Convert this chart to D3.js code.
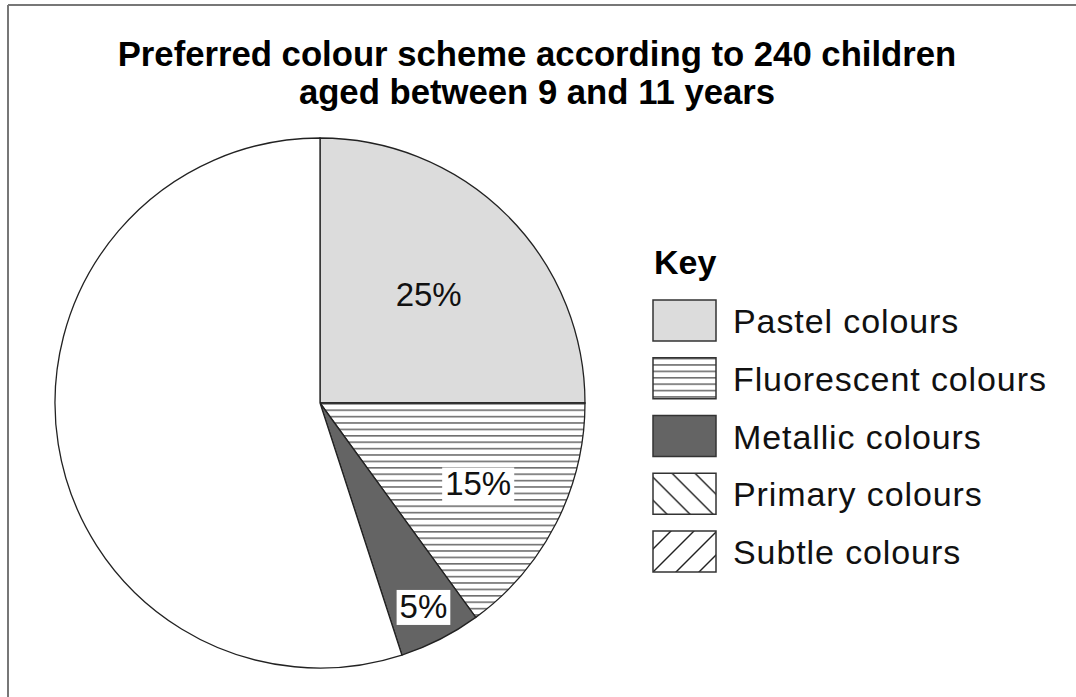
<!DOCTYPE html>
<html>
<head>
<meta charset="utf-8">
<script src="https://cdn.jsdelivr.net/npm/d3@7"></script>
<style>
	body { margin: 0; background: #fff; }
	text { font-family: "Liberation Sans", Arial, sans-serif; }
</style>
</head>
<body>
<div id="vis"></div>
<script>
// data
const SLICE_NAMES = ["Pastel colours", "Fluorescent colours", "Metallic colours", "Unmarked"];
const SLICE_VALUES = [25, 15, 5, 55];
const SLICE_LABELS = ["25%", "15%", "5%", ""];
const KEY_NAMES = ["Pastel colours", "Fluorescent colours", "Metallic colours", "Primary colours", "Subtle colours"];
const TITLE_LINES = ["Preferred colour scheme according to 240 children", "aged between 9 and 11 years"];

// declare constants
const FRAME_WIDTH = 1076;
const FRAME_HEIGHT = 697;
const CX = 320, CY = 403, RADIUS = 265;
// how far out (as fraction of radius) each label sits
const LABEL_POS = [0.58, 0.67, 0.86, 0];

const FILLS = {
	"Pastel colours": "#dcdcdc",
	"Fluorescent colours": "url(#hlines)",
	"Metallic colours": "#646464",
	"Primary colours": "url(#dback)",
	"Subtle colours": "url(#dfwd)",
	"Unmarked": "#fff"
};

const FRAME = d3.select("#vis")
	.append("svg")
		.attr("width", FRAME_WIDTH)
		.attr("height", FRAME_HEIGHT);

// patterns
const DEFS = FRAME.append("defs");

const HL = DEFS.append("pattern")
	.attr("id", "hlines")
	.attr("patternUnits", "userSpaceOnUse")
	.attr("width", 10).attr("height", 6.4);
HL.append("rect").attr("width", 10).attr("height", 6.4).attr("fill", "#fff");
HL.append("line")
	.attr("x1", 0).attr("x2", 10).attr("y1", 0.8).attr("y2", 0.8)
	.attr("stroke", "#6e6e6e").attr("stroke-width", 1.6);

const DB = DEFS.append("pattern")
	.attr("id", "dback")
	.attr("patternUnits", "userSpaceOnUse")
	.attr("width", 23).attr("height", 23)
	.attr("patternTransform", "translate(655,475)");
DB.append("rect").attr("width", 23).attr("height", 23).attr("fill", "#fff");
DB.selectAll("line")
	.data([[-1, -1, 24, 24], [-24, 0, 1, 24], [22, -1, 47, 24]])
	.enter()
	.append("line")
		.attr("x1", (d) => d[0]).attr("y1", (d) => d[1])
		.attr("x2", (d) => d[2]).attr("y2", (d) => d[3])
		.attr("stroke", "#222").attr("stroke-width", 1.4);

const DF = DEFS.append("pattern")
	.attr("id", "dfwd")
	.attr("patternUnits", "userSpaceOnUse")
	.attr("width", 23).attr("height", 23)
	.attr("patternTransform", "translate(660,531)");
DF.append("rect").attr("width", 23).attr("height", 23).attr("fill", "#fff");
DF.selectAll("line")
	.data([[-1, 24, 24, -1], [-24, 24, 1, -1], [22, 24, 47, -1]])
	.enter()
	.append("line")
		.attr("x1", (d) => d[0]).attr("y1", (d) => d[1])
		.attr("x2", (d) => d[2]).attr("y2", (d) => d[3])
		.attr("stroke", "#222").attr("stroke-width", 1.4);

// outer frame (top and left edges only visible)
FRAME.append("line")
	.attr("x1", 8).attr("x2", FRAME_WIDTH).attr("y1", 5).attr("y2", 5)
	.attr("stroke", "#777").attr("stroke-width", 2);
FRAME.append("line")
	.attr("x1", 8).attr("x2", 8).attr("y1", 5).attr("y2", FRAME_HEIGHT)
	.attr("stroke", "#777").attr("stroke-width", 2);

// title
FRAME.append("text")
	.attr("x", 537)
	.attr("text-anchor", "middle")
	.attr("font-weight", "bold")
	.attr("font-size", "34.7px")
	.selectAll("tspan")
	.data(TITLE_LINES)
	.enter()
	.append("tspan")
		.attr("x", 537)
		.attr("y", (d, i) => 66 + i * 38)
		.text((d) => d);

// pie
const PIE = d3.pie().sort(null).value((d) => d.value);
const ARC = d3.arc().innerRadius(0).outerRadius(RADIUS);
const pieData = PIE(SLICE_NAMES.map((n, i) => ({name: n, value: SLICE_VALUES[i], label: SLICE_LABELS[i], pos: LABEL_POS[i]})));

const G = FRAME.append("g").attr("transform", "translate(" + CX + "," + CY + ")");

G.selectAll("path")
	.data(pieData)
	.enter()
	.append("path")
		.attr("d", ARC)
		.attr("fill", (d) => FILLS[d.data.name])
		.attr("stroke", "#222")
		.attr("stroke-width", 1.3);

// slice labels
const LBL = G.selectAll(".lbl")
	.data(pieData.filter((d) => d.data.label !== ""))
	.enter()
	.append("g")
		.attr("class", "lbl")
		.attr("transform", (d) => {
			const a = (d.startAngle + d.endAngle) / 2;
			const r = RADIUS * d.data.pos;
			return "translate(" + (r * Math.sin(a)) + "," + (-r * Math.cos(a)) + ")";
		});

LBL.append("text")
	.attr("text-anchor", "middle")
	.attr("dy", "0.36em")
	.attr("font-size", "33px")
	.attr("fill", "#111")
	.text((d) => d.data.label);

// white boxes behind labels outside the pastel slice
LBL.each(function(d, i) {
	if (i === 0) return;
	const t = d3.select(this).select("text");
	const b = t.node().getBBox();
	d3.select(this).insert("rect", "text")
		.attr("x", b.x - 3).attr("y", b.y + 2)
		.attr("width", b.width + 6).attr("height", b.height - 2)
		.attr("fill", "#fff");
});

// key
FRAME.append("text")
	.attr("x", 654).attr("y", 274)
	.attr("font-weight", "bold")
	.attr("font-size", "34px")
	.text("Key");

const KEY = FRAME.selectAll(".key")
	.data(KEY_NAMES)
	.enter()
	.append("g")
		.attr("class", "key")
		.attr("transform", (d, i) => "translate(653," + (300 + i * 57.75) + ")");

KEY.append("rect")
	.attr("width", 63).attr("height", 41)
	.attr("fill", (d) => FILLS[d])
	.attr("stroke", "#333")
	.attr("stroke-width", 1.5);

KEY.append("text")
	.attr("x", 80).attr("y", 33)
	.attr("font-size", "34px")
	.attr("letter-spacing", "0.9px")
	.attr("fill", "#111")
	.text((d) => d);
</script>
</body>
</html>
